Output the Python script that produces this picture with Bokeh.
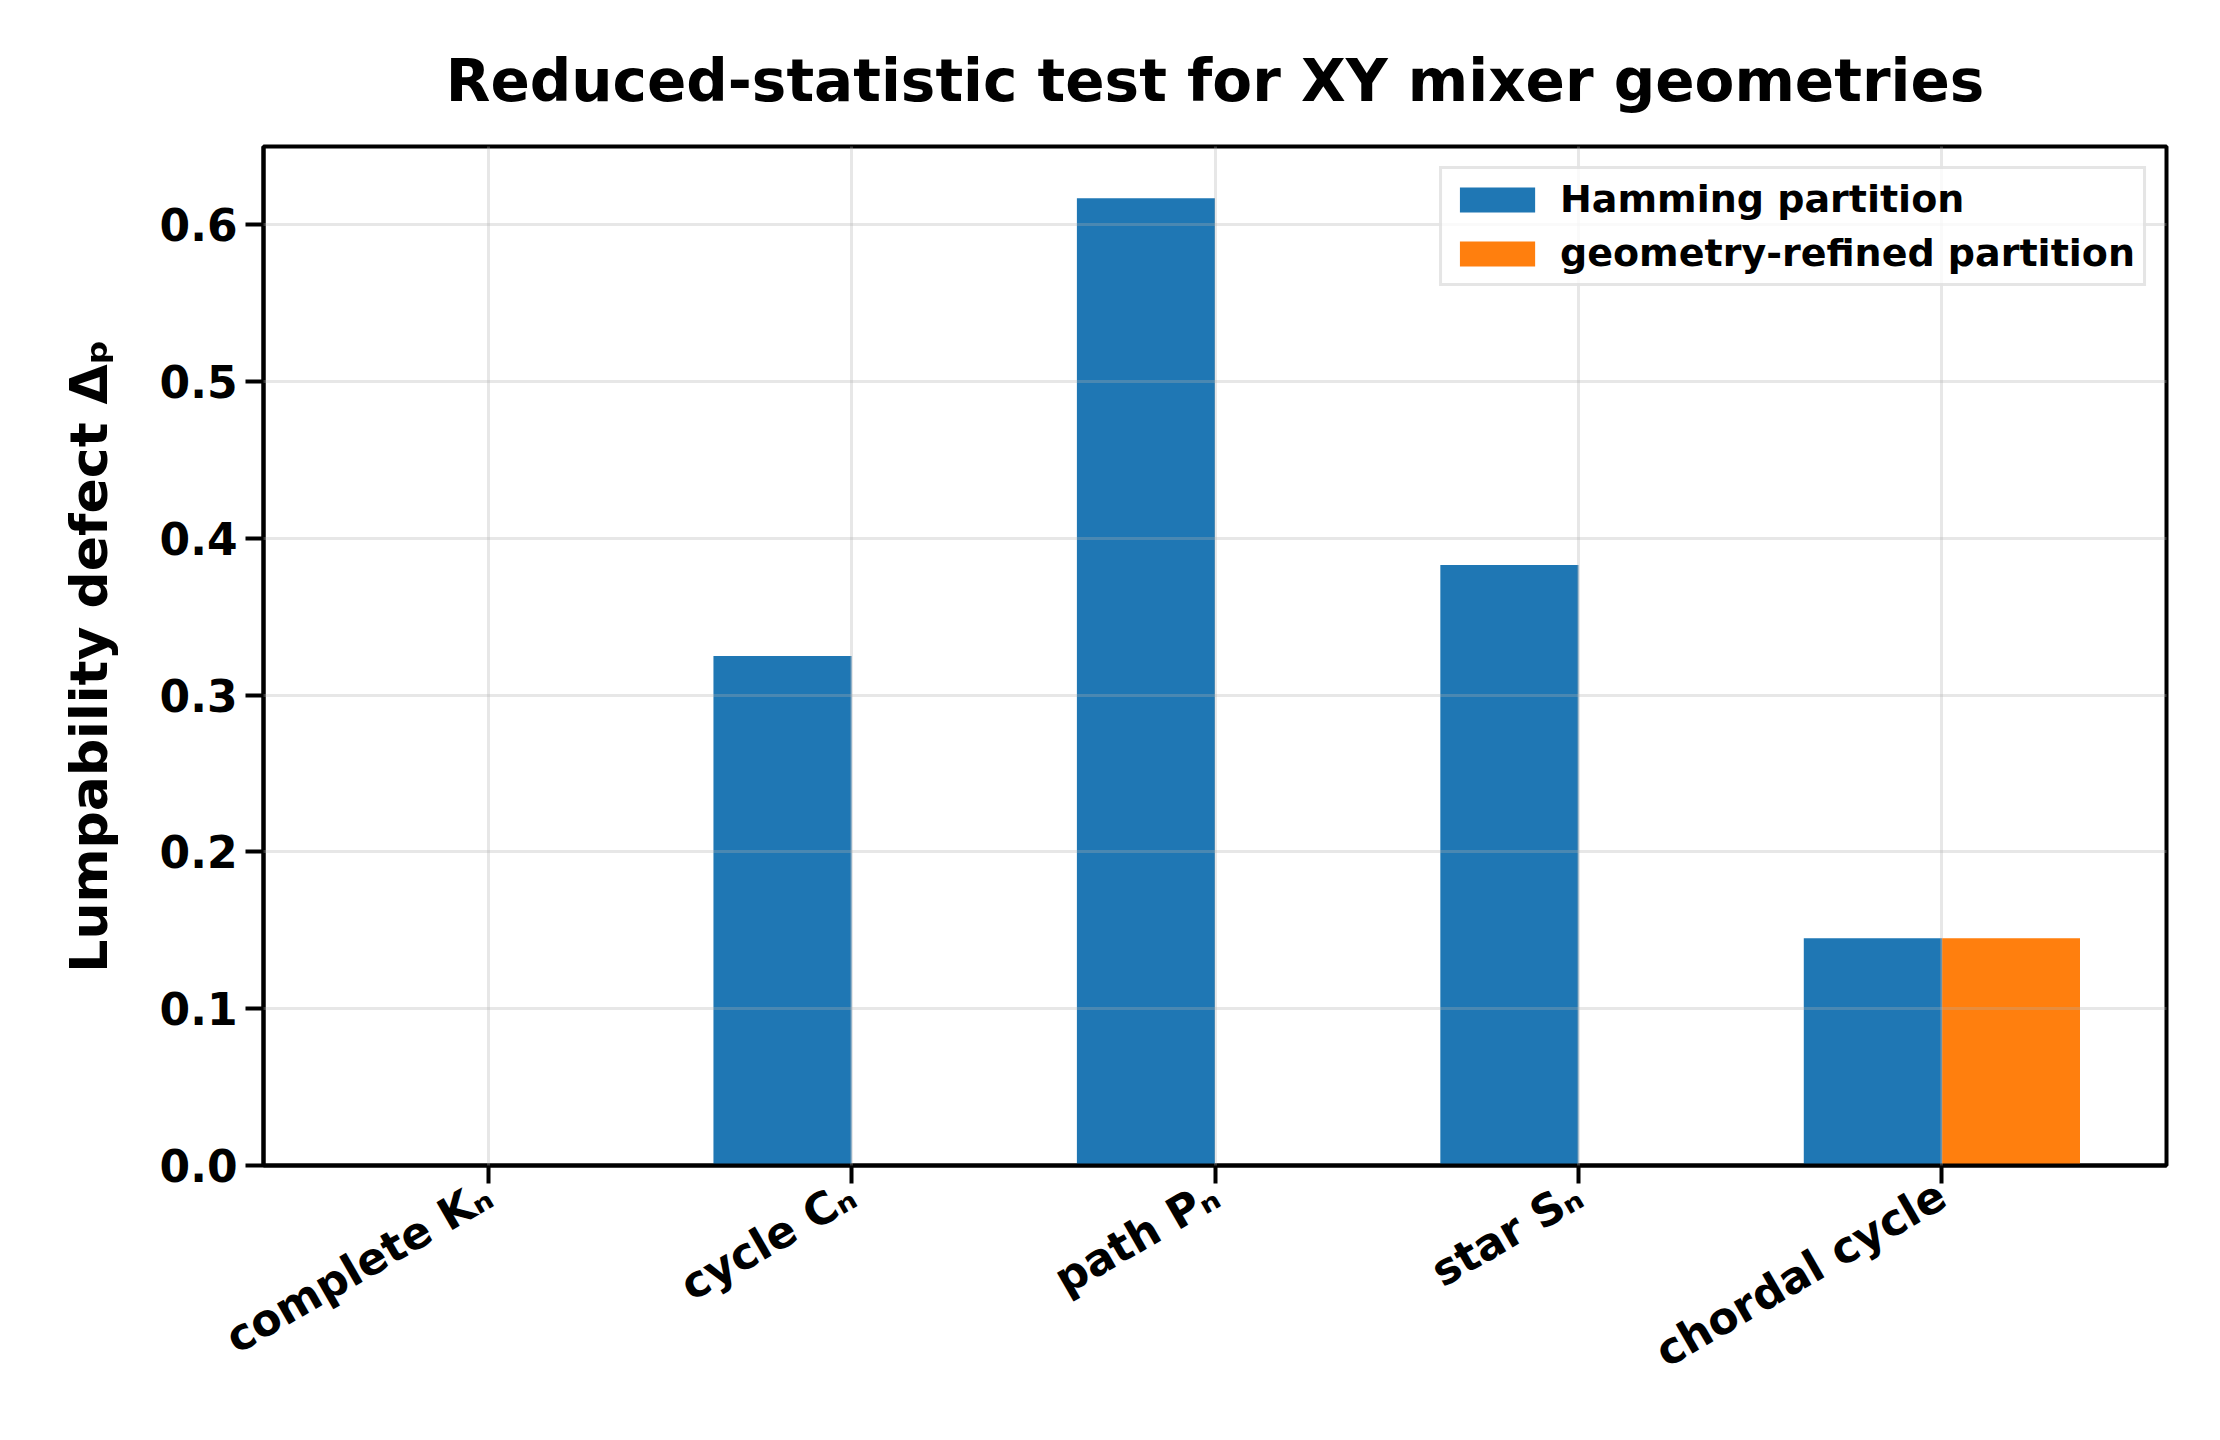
import math
from bokeh.plotting import figure
from bokeh.models import Range1d, FixedTicker, PrintfTickFormatter, ColumnDataSource
from bokeh.embed import file_html
from bokeh.resources import INLINE

categories = ["complete Kₙ", "cycle Cₙ", "path Pₙ", "star Sₙ", "chordal cycle"]
hamming = [0.0, 0.325, 0.617, 0.383, 0.145]
refined = [0.0, 0.0, 0.0, 0.0, 0.145]
y_ticks = [0.0, 0.1, 0.2, 0.3, 0.4, 0.5, 0.6]

bar_w = 0.38
idx = list(range(len(categories)))

FONT = "DejaVu Sans"

p = figure(width=2220, height=1440, output_backend="svg", toolbar_location=None,
           x_range=Range1d(-0.618, 4.618), y_range=Range1d(0, 0.65),
           min_border_left=263, min_border_right=54, min_border_top=146, min_border_bottom=275,
           title="Reduced-statistic test for XY mixer geometries")

src_h = ColumnDataSource(dict(x=[i - bar_w / 2 for i in idx], top=hamming))
src_r = ColumnDataSource(dict(x=[i + bar_w / 2 for i in idx], top=refined))
p.vbar(x="x", top="top", width=bar_w, source=src_h, fill_color="#1f77b4", line_color=None,
       legend_label="Hamming partition")
p.vbar(x="x", top="top", width=bar_w, source=src_r, fill_color="#ff7f0e", line_color=None,
       legend_label="geometry-refined partition")

p.title.align = "center"
p.title.text_font = FONT
p.title.text_font_size = "58px"
p.title.text_font_style = "bold"
p.title.text_color = "black"
p.title.standoff = 63

p.outline_line_color = "black"
p.outline_line_width = 4
p.outline_line_alpha = 1.0

p.xaxis.ticker = FixedTicker(ticks=idx)
p.xaxis.major_label_overrides = {i: c for i, c in zip(idx, categories)}
p.xaxis.major_label_orientation = math.pi / 6
p.yaxis.ticker = FixedTicker(ticks=y_ticks)
p.yaxis.formatter = PrintfTickFormatter(format="%.1f")
p.yaxis.axis_label = "Lumpability defect Δₚ"

for ax in (p.xaxis[0], p.yaxis[0]):
    ax.axis_line_color = "black"
    ax.axis_line_width = 4
    ax.major_tick_line_color = "black"
    ax.major_tick_line_width = 4
    ax.major_tick_out = 18
    ax.major_tick_in = 0
    ax.minor_tick_line_color = None
    ax.major_label_text_font = FONT
    ax.major_label_text_font_size = "44px"
    ax.major_label_text_font_style = "bold"
    ax.major_label_text_color = "black"
    ax.major_label_standoff = 8
    ax.axis_label_text_font = FONT
    ax.axis_label_text_font_size = "52px"
    ax.axis_label_text_font_style = "bold"
    ax.axis_label_text_color = "black"
    ax.axis_label_standoff = 38

for g in (p.xgrid[0], p.ygrid[0]):
    g.grid_line_color = "#b0b0b0"
    g.grid_line_alpha = 0.3
    g.grid_line_width = 3
    g.level = "guide"
p.xgrid.ticker = FixedTicker(ticks=idx)
p.ygrid.ticker = FixedTicker(ticks=y_ticks)

lg = p.legend[0]
lg.location = "top_right"
lg.margin = 20
lg.padding = 8
lg.spacing = 10
lg.glyph_width = 94
lg.glyph_height = 31
lg.label_height = 40
lg.label_standoff = 16
lg.label_text_font = FONT
lg.label_text_font_size = "38px"
lg.label_text_font_style = "bold"
lg.label_text_color = "black"
lg.border_line_color = "#cccccc"
lg.border_line_width = 3
lg.background_fill_alpha = 0.8

open("out.html", "w").write(file_html(p, INLINE))
